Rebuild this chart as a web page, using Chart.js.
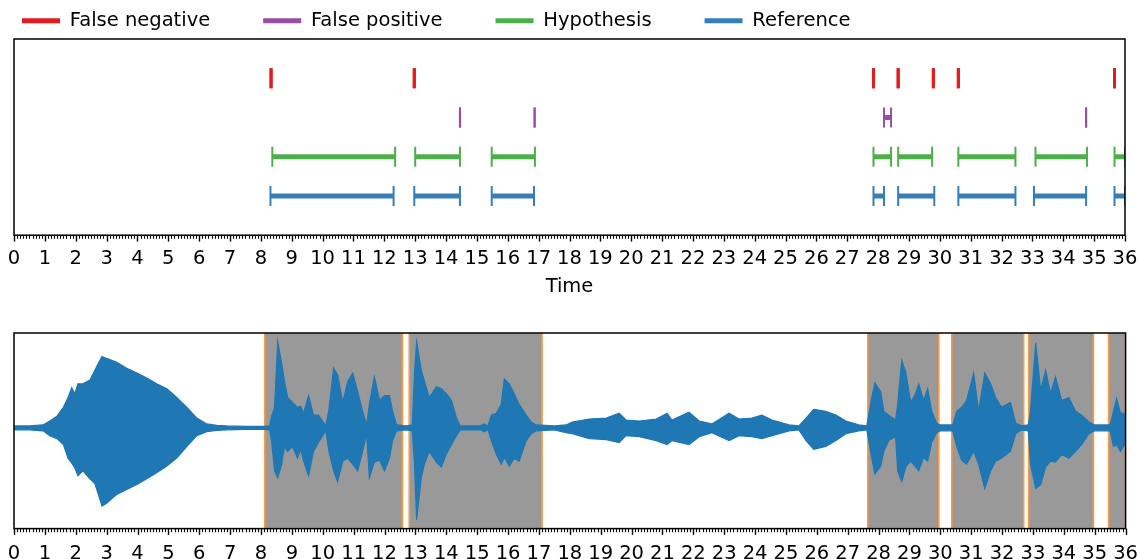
<!DOCTYPE html>
<html>
<head>
<meta charset="utf-8">
<script src="https://cdn.jsdelivr.net/npm/chart.js@4.4.1/dist/chart.umd.min.js"></script>
<style>
  html, body { margin: 0; padding: 0; background: #fff; overflow: hidden; }
  body { width: 1138px; height: 559px; position: relative; }
  canvas { position: absolute; }
  #eventChart { left: 0; top: 0; }
  #waveChart { left: 0; top: 300px; }
  #legendChart { left: -31px; top: -42px; pointer-events: none; }
</style>
</head>
<body>
<canvas id="waveChart" width="1138" height="266"></canvas>
<canvas id="eventChart" width="1138" height="304"></canvas>
<canvas id="legendChart" width="1169" height="160"></canvas>
<script>
// ---- event rows (seconds, [start, end]) ----
const seriesNames = ['False negative', 'False positive', 'Hypothesis', 'Reference'];
const seriesColors = ['#e41a1c', '#984ea3', '#4daf4a', '#377eb8'];

const falseNegative = [[8.33, 8.33], [12.97, 12.97], [27.85, 27.85], [28.65, 28.65], [29.79, 29.79], [30.60, 30.60], [35.66, 35.66]];
const falsePositive = [[14.45, 14.45], [16.87, 16.87], [28.19, 28.42], [34.74, 34.74]];
const hypothesis = [[8.37, 12.35], [13.00, 14.45], [15.48, 16.88], [27.85, 28.42], [28.65, 29.75], [30.60, 32.45], [33.10, 34.77], [35.66, 36.00]];
const reference = [[8.31, 12.30], [12.97, 14.45], [15.48, 16.85], [27.85, 28.19], [28.65, 29.82], [30.60, 32.45], [33.05, 34.74], [35.66, 36.00]];

// ---- speech regions shaded on the waveform ----
const regionStarts = [8.12, 12.80, 27.65, 30.37, 32.86, 35.45];
const regionEnds = [12.58, 17.10, 29.95, 32.70, 34.96, 36.00];

// ---- waveform envelope ----
const waveTime = [
  0, 0.5, 0.94, 1.16, 1.39, 1.6, 1.75, 1.87, 1.97, 2.07, 2.23, 2.46, 2.62, 2.73, 2.85, 3.0, 3.33, 3.65, 3.98, 4.3,
  4.62, 4.95, 5.27, 5.6, 5.92, 6.24, 6.57, 6.89, 7.5, 8.1, 8.28,
  8.34, 8.44, 8.54, 8.67, 8.76, 8.86, 9.02, 9.18, 9.28, 9.38, 9.54, 9.70, 9.86, 10.1, 10.2, 10.35, 10.48, 10.65, 10.8,
  10.97, 11.13, 11.29, 11.42, 11.51, 11.67, 11.84, 12.0, 12.16, 12.26, 12.39, 12.7, 12.9, 12.97, 13.04, 13.19, 13.29,
  13.45, 13.68, 13.84, 14.0, 14.17, 14.33, 14.45, 15.1, 15.23, 15.35, 15.46, 15.62, 15.78, 15.88, 16.04, 16.2, 16.36,
  16.59, 16.75, 16.91, 17.5,
  17.88, 18.08, 18.63, 19.18, 19.6, 19.82, 20.25, 20.8, 21.15, 21.31, 21.86, 22.19, 22.6, 23.16, 23.48, 23.9, 24.22,
  24.55, 25.1, 25.42, 25.65, 25.9, 26.29, 26.62, 26.94, 27.36, 27.62,
  27.78, 27.88, 28.07, 28.17, 28.33, 28.55, 28.62, 28.75, 28.88, 29.04, 29.2, 29.3, 29.46, 29.59, 29.72, 29.88, 30.0,
  30.4, 30.53, 30.69, 30.85, 31.08, 31.24, 31.44, 31.63, 31.79, 31.98, 32.27, 32.44, 32.63, 32.85, 32.92, 33.09, 33.25,
  33.41, 33.57, 33.73, 33.93, 34.16, 34.38, 34.58, 34.81, 35.0, 35.5, 35.61, 35.71, 35.83, 35.93, 36.0
];
const waveUpper = [
  0.02, 0.02, 0.03, 0.07, 0.12, 0.21, 0.31, 0.41, 0.35, 0.45, 0.45, 0.49, 0.59, 0.66, 0.73, 0.71, 0.67, 0.61, 0.56, 0.51,
  0.45, 0.40, 0.31, 0.21, 0.10, 0.04, 0.025, 0.02, 0.015, 0.015, 0.02,
  0.12, 0.21, 0.88, 0.66, 0.48, 0.31, 0.26, 0.21, 0.22, 0.15, 0.33, 0.13, 0.13, 0.02, 0.19, 0.61, 0.54, 0.26, 0.47,
  0.56, 0.37, 0.17, 0.03, 0.24, 0.52, 0.28, 0.33, 0.33, 0.17, 0.03, 0.02, 0.03, 0.56, 0.88, 0.59, 0.48,
  0.31, 0.42, 0.40, 0.35, 0.28, 0.10, 0.02, 0.02, 0.04, 0.02, 0.13, 0.15, 0.24, 0.50, 0.45, 0.35, 0.24,
  0.13, 0.06, 0.03, 0.02,
  0.03, 0.06, 0.09, 0.10, 0.15, 0.08, 0.07, 0.09, 0.15, 0.08, 0.16, 0.07, 0.04, 0.15, 0.09, 0.10, 0.13,
  0.08, 0.03, 0.02, 0.10, 0.19, 0.17, 0.13, 0.07, 0.03, 0.02,
  0.31, 0.46, 0.37, 0.17, 0.13, 0.08, 0.24, 0.69, 0.57, 0.26, 0.35, 0.45, 0.28, 0.40, 0.17, 0.05, 0.03,
  0.03, 0.17, 0.21, 0.28, 0.56, 0.17, 0.56, 0.45, 0.31, 0.21, 0.26, 0.05, 0.02, 0.03, 0.17, 0.87, 0.38,
  0.59, 0.35, 0.52, 0.28, 0.31, 0.17, 0.13, 0.06, 0.03, 0.03, 0.17, 0.30, 0.15, 0.15, 0.12
];
const waveLower = [
  -0.02, -0.02, -0.03, -0.08, -0.11, -0.17, -0.31, -0.36, -0.41, -0.49, -0.44, -0.52, -0.57, -0.68, -0.80, -0.77, -0.68, -0.63, -0.58, -0.52,
  -0.46, -0.39, -0.31, -0.19, -0.08, -0.04, -0.025, -0.02, -0.015, -0.015, -0.02,
  -0.13, -0.44, -0.51, -0.37, -0.19, -0.24, -0.19, -0.31, -0.22, -0.34, -0.49, -0.24, -0.15, -0.03, -0.24, -0.44, -0.55, -0.34, -0.31,
  -0.37, -0.44, -0.24, -0.06, -0.51, -0.35, -0.33, -0.44, -0.31, -0.13, -0.03, -0.02, -0.03, -0.37, -0.94, -0.51, -0.37,
  -0.24, -0.35, -0.40, -0.27, -0.17, -0.08, -0.02, -0.02, -0.04, -0.02, -0.13, -0.27, -0.37, -0.30, -0.39, -0.31, -0.34,
  -0.13, -0.06, -0.03, -0.02,
  -0.05, -0.06, -0.11, -0.12, -0.15, -0.08, -0.09, -0.13, -0.17, -0.13, -0.17, -0.09, -0.05, -0.13, -0.08, -0.09, -0.11,
  -0.08, -0.03, -0.02, -0.13, -0.22, -0.19, -0.13, -0.06, -0.03, -0.02,
  -0.31, -0.47, -0.39, -0.24, -0.13, -0.09, -0.44, -0.55, -0.40, -0.34, -0.40, -0.44, -0.30, -0.34, -0.15, -0.05, -0.03,
  -0.03, -0.19, -0.33, -0.37, -0.24, -0.37, -0.62, -0.44, -0.34, -0.31, -0.24, -0.06, -0.02, -0.03, -0.37, -0.62, -0.58,
  -0.40, -0.34, -0.35, -0.27, -0.31, -0.24, -0.17, -0.06, -0.03, -0.03, -0.19, -0.17, -0.24, -0.19, -0.15
];

const FONT = 'DejaVu Sans';
const FONT_SIZE = 19.5;
Chart.defaults.font.family = FONT;
Chart.defaults.font.size = FONT_SIZE;
Chart.defaults.color = '#000';

// black frame round the axes + matplotlib style major/minor ticks
const axesFrame = {
  id: 'axesFrame',
  afterDatasetsDraw(chart) {
    const { ctx, chartArea: a, scales: { x } } = chart;
    ctx.save();
    ctx.strokeStyle = '#000';
    for (let i = 0; i <= 360; i++) {
      const major = i % 10 === 0;
      const px = Math.round(x.getPixelForValue(i / 10)) + 0.5;
      ctx.lineWidth = major ? 1.4 : 1.1;
      ctx.beginPath();
      ctx.moveTo(px, a.bottom);
      ctx.lineTo(px, a.bottom + (major ? 6.3 : 3.6));
      ctx.stroke();
    }
    ctx.lineWidth = 1.5;
    ctx.strokeRect(a.left, a.top, a.right - a.left, a.bottom - a.top);
    ctx.restore();
  }
};

// label gap is set by the (invisible) tick length; real ticks come from axesFrame
function timeAxis(withTitle, labelGap) {
  return {
    type: 'linear',
    min: 0,
    max: 36,
    ticks: { stepSize: 1, autoSkip: false, maxRotation: 0, minRotation: 0, padding: 0, color: '#000' },
    grid: { drawOnChartArea: false, drawTicks: true, tickLength: labelGap, tickColor: 'rgba(0,0,0,0)', color: 'rgba(0,0,0,0)' },
    border: { display: false },
    title: { display: withTitle, text: 'Time', color: '#000', padding: { top: 5, bottom: 4 } }
  };
}

function segmentPoints(pairs, row) {
  const pts = [];
  pairs.forEach(([s, e], i) => {
    if (i > 0) pts.push({ x: s, y: null });
    pts.push({ x: s, y: row }, { x: e, y: row });
  });
  return pts;
}

const rows = [falseNegative, falsePositive, hypothesis, reference];
const eventDatasets = rows.map((pairs, i) => ({
  label: seriesNames[i],
  data: segmentPoints(pairs, 3 - i),
  borderColor: seriesColors[i],
  backgroundColor: seriesColors[i],
  borderWidth: 5,
  borderCapStyle: 'butt',
  spanGaps: false,
  pointStyle: 'line',
  pointRotation: 90,
  pointRadius: 10,
  pointBorderWidth: i === 0 ? 3 : 2,
  pointBorderColor: seriesColors[i],
  pointHoverRadius: 10
}));

new Chart(document.getElementById('eventChart'), {
  type: 'line',
  data: { datasets: eventDatasets },
  options: {
    responsive: false,
    animation: false,
    events: [],
    layout: { padding: { left: 14, right: 11, top: 39, bottom: 1 } },
    plugins: { legend: { display: false }, tooltip: { enabled: false } },
    scales: {
      x: timeAxis(true, 12),
      y: { display: false, min: -1, max: 4 }
    }
  },
  plugins: [axesFrame]
});

// waveform on top, shaded regions underneath
const waveDatasets = [
  {
    data: waveTime.map((t, i) => ({ x: t, y: waveUpper[i] })),
    borderColor: '#1f77b4', backgroundColor: '#1f77b4', borderWidth: 1.2,
    pointRadius: 0, tension: 0, fill: '+1'
  },
  {
    data: waveTime.map((t, i) => ({ x: t, y: waveLower[i] })),
    borderColor: '#1f77b4', backgroundColor: '#1f77b4', borderWidth: 1.2,
    pointRadius: 0, tension: 0, fill: false
  }
];
const Y_MIN = -1.03, Y_MAX = 0.97;
regionStarts.forEach((s, i) => {
  const e = regionEnds[i];
  waveDatasets.push({
    data: [{ x: s, y: Y_MIN }, { x: s, y: Y_MAX }, { x: e, y: Y_MAX }, { x: e, y: Y_MIN }],
    borderColor: '#ff983e', backgroundColor: '#999999', borderWidth: 1.6,
    pointRadius: 0, tension: 0, fill: 'start'
  });
});

new Chart(document.getElementById('waveChart'), {
  type: 'line',
  data: { datasets: waveDatasets },
  options: {
    responsive: false,
    animation: false,
    events: [],
    layout: { padding: { left: 14, right: 11, top: 33, bottom: 0 } },
    plugins: { legend: { display: false }, tooltip: { enabled: false } },
    scales: {
      x: timeAxis(false, 14),
      y: { display: false, min: Y_MIN, max: Y_MAX }
    }
  },
  plugins: [axesFrame]
});

// legend for the event rows
new Chart(document.getElementById('legendChart'), {
  type: 'line',
  data: {
    datasets: seriesNames.map((name, i) => ({
      label: name, data: [], backgroundColor: seriesColors[i], borderColor: seriesColors[i], borderWidth: 0
    }))
  },
  options: {
    responsive: false,
    animation: false,
    events: [],
    layout: { padding: 0 },
    plugins: {
      tooltip: { enabled: false },
      legend: {
        display: true,
        position: 'top',
        align: 'start',
        labels: { boxWidth: 38, boxHeight: 5, padding: 53, color: '#000', font: { size: FONT_SIZE } }
      }
    },
    scales: { x: { display: false }, y: { display: false } }
  }
});
</script>
</body>
</html>
